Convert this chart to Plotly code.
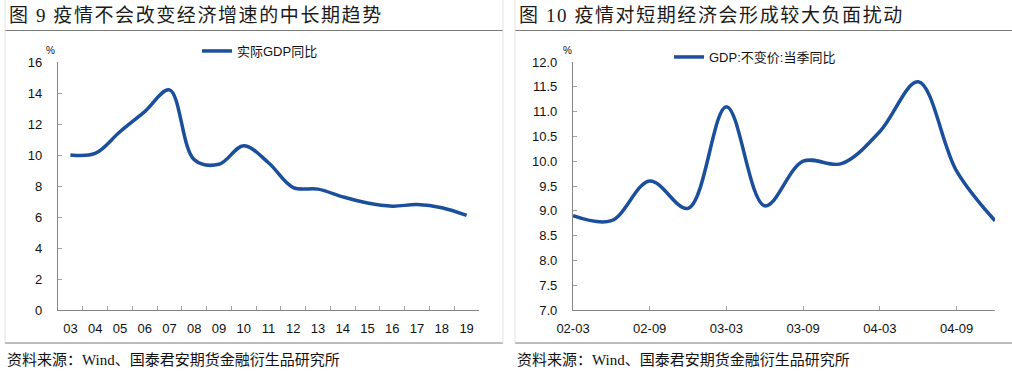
import plotly.graph_objects as go

# ---- data ----
years = ["03", "04", "05", "06", "07", "08", "09", "10", "11", "12",
         "13", "14", "15", "16", "17", "18", "19"]
gdp_annual = [10.0, 10.1, 11.5, 12.8, 14.2, 9.7, 9.4, 10.6, 9.5, 7.9,
              7.8, 7.3, 6.9, 6.7, 6.8, 6.6, 6.1]

quarters = ["02-03", "02-06", "02-09", "02-12", "03-03", "03-06",
            "03-09", "03-12", "04-03", "04-06", "04-09", "04-12"]
gdp_quarter = [8.9, 8.8, 9.6, 9.05, 11.1, 9.1, 10.0, 9.95, 10.6, 11.6, 9.8, 8.8]
q_tick_labels = ["02-03", "02-09", "03-03", "03-09", "04-03", "04-09"]

left_title = "图 9 疫情不会改变经济增速的中长期趋势"
right_title = "图 10 疫情对短期经济会形成较大负面扰动"
source_text = "资料来源：Wind、国泰君安期货金融衍生品研究所"
left_name = "实际GDP同比"
right_name = "GDP:不变价:当季同比"

W, H = 1012, 373
LINE = "#1B4F9C"
AX = "#868686"
SANS = "Liberation Sans, Arial, Noto Sans CJK SC"
SERIF = "Liberation Serif, Noto Sans CJK SC"

def px(x):
    return x / W

def py(y):
    return 1 - y / H

def spaced(s, sp="\u200a"):
    return sp.join(list(s))

fig = go.Figure()
fig.add_trace(go.Scatter(
    x=years, y=gdp_annual, mode="lines", name=left_name,
    line=dict(color=LINE, width=3.5, shape="spline", smoothing=1.0),
    xaxis="x", yaxis="y", legend="legend", hoverinfo="x+y"))
fig.add_trace(go.Scatter(
    x=list(range(len(quarters))), y=gdp_quarter, mode="lines", name=right_name,
    customdata=quarters,
    line=dict(color=LINE, width=3.5, shape="spline", smoothing=1.0),
    xaxis="x2", yaxis="y2", legend="legend2", hovertemplate="%{customdata}: %{y}<extra></extra>"))

ydom = [py(310), py(62)]
common_axis = dict(showgrid=False, zeroline=False, showline=True, linecolor=AX,
                   linewidth=1.3, ticks="inside", ticklen=4, tickcolor="#a0a0a0",
                   tickwidth=1, automargin=False,
                   tickfont=dict(family=SANS, size=13, color="#111"))

fig.update_layout(
    template="none",
    width=W, height=H, autosize=False,
    margin=dict(l=0, r=0, t=0, b=0, pad=0),
    paper_bgcolor="white", plot_bgcolor="white",
    showlegend=True,
    xaxis=dict(domain=[px(58), px(479)], anchor="y", type="category",
               tickson="boundaries", range=[-0.5, len(years) - 0.5],
               ticklabelstandoff=6, **common_axis),
    yaxis=dict(domain=ydom, anchor="x", range=[0, 16], dtick=2,
               ticklabelstandoff=12, **common_axis),
    xaxis2=dict(domain=[px(573), px(995)], anchor="y2",
                range=[0, len(quarters) - 1],
                tickvals=[quarters.index(q) for q in q_tick_labels],
                ticktext=q_tick_labels, ticklabelstandoff=6, **common_axis),
    yaxis2=dict(domain=ydom, anchor="x2", range=[7, 12], dtick=0.5,
                tickformat=".1f", ticklabelstandoff=12, **common_axis),
    legend=dict(x=px(197), y=py(51), xanchor="left", yanchor="middle",
                bgcolor="rgba(0,0,0,0)", borderwidth=0, itemwidth=30,
                font=dict(family=SANS, size=13, color="#111")),
    legend2=dict(x=px(669), y=py(57), xanchor="left", yanchor="middle",
                 bgcolor="rgba(0,0,0,0)", borderwidth=0, itemwidth=30,
                 font=dict(family=SANS, size=13, color="#111")),
)

annotations = [
    dict(text=spaced(left_title), x=px(7), y=py(15), xanchor="left", yanchor="middle",
         font=dict(family=SERIF, size=19, color="#1a1a1a")),
    dict(text=spaced(right_title), x=px(517), y=py(15), xanchor="left", yanchor="middle",
         font=dict(family=SERIF, size=19, color="#1a1a1a")),
    dict(text=source_text, x=px(5), y=py(360), xanchor="left", yanchor="middle",
         font=dict(family=SERIF, size=15, color="#111")),
    dict(text=source_text, x=px(515), y=py(360), xanchor="left", yanchor="middle",
         font=dict(family=SERIF, size=15, color="#111")),
    dict(text="%", x=px(50), y=py(51), xanchor="center", yanchor="middle",
         font=dict(family=SANS, size=10, color="#111")),
    dict(text="%", x=px(567), y=py(51), xanchor="center", yanchor="middle",
         font=dict(family=SANS, size=10, color="#111")),
]
for a in annotations:
    a.update(xref="paper", yref="paper", showarrow=False)
fig.update_layout(annotations=annotations)

shapes = []
for x0, x1 in [(5, 503), (515, W)]:
    for yy in (30.5, 343):
        shapes.append(dict(type="line", xref="paper", yref="paper",
                           x0=px(x0), x1=px(x1), y0=py(yy), y1=py(yy),
                           line=dict(color="#7a7a7a", width=1)))
for xx in (5, 503, 515):
    shapes.append(dict(type="line", xref="paper", yref="paper",
                       x0=px(xx), x1=px(xx), y0=py(0), y1=py(343),
                       line=dict(color="#e4e4e4", width=1)))
fig.update_layout(shapes=shapes)

fig.write_html("out.html",
               config={"displayModeBar": False},
               post_script="document.body.style.margin='0px';"
                           "document.body.style.overflow='hidden';")
